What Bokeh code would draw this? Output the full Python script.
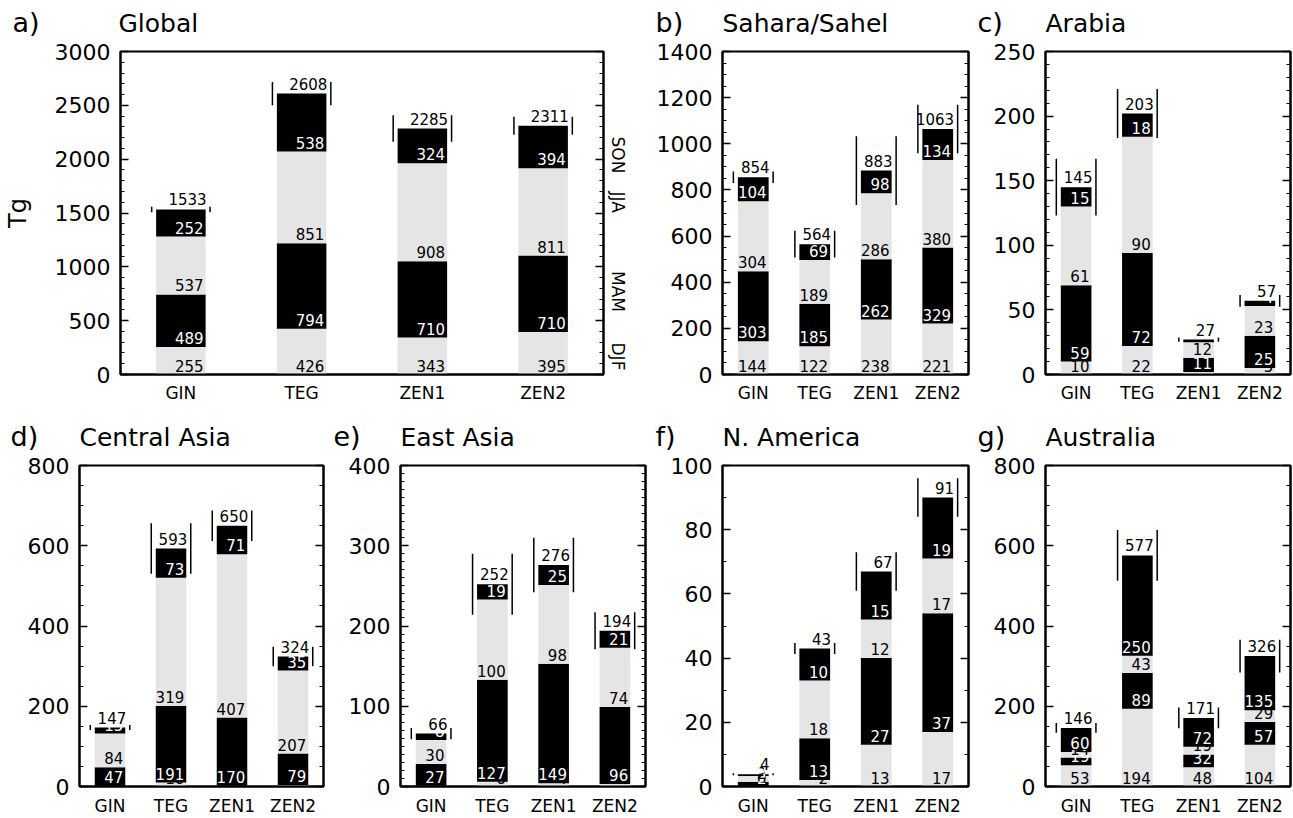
import numpy as np
from bokeh.plotting import figure
from bokeh.models import Range1d, LinearAxis, SingleIntervalTicker, FixedTicker, CustomJSTickFormatter, ColumnDataSource
from bokeh.layouts import column, row
from bokeh.embed import file_html
from bokeh.resources import INLINE
from bokeh.core.properties import value

FONT = "DejaVu Sans"
GRAY = "#e5e5e5"

categories = ["GIN", "TEG", "ZEN1", "ZEN2"]
seasons = ["DJF", "MAM", "JJA", "SON"]
season_label_pos = [297, 961, 1700, 2210]

# ---- data (Tg) ----
global_djf = [255, 426, 343, 395]
global_mam = [489, 794, 710, 710]
global_jja = [537, 851, 908, 811]
global_son = [252, 538, 324, 394]
global_total = [1533, 2608, 2285, 2311]
global_err = [25, 108, 124, 83]

sahara_djf = [144, 122, 238, 221]
sahara_mam = [303, 185, 262, 329]
sahara_jja = [304, 189, 286, 380]
sahara_son = [104, 69, 98, 134]
sahara_total = [854, 564, 883, 1063]
sahara_err = [25, 58, 149, 105]

arabia_djf = [10, 22, 2, 5]
arabia_mam = [59, 72, 11, 25]
arabia_jja = [61, 90, 12, 23]
arabia_son = [15, 18, 2, 4]
arabia_total = [145, 203, 27, 57]
arabia_err = [22, 19, 1.6, 4.5]

casia_djf = [1, 10, 2, 3]
casia_mam = [47, 191, 170, 79]
casia_jja = [84, 319, 407, 207]
casia_son = [15, 73, 71, 35]
casia_total = [147, 593, 650, 324]
casia_err = [6, 63, 38, 24]

easia_djf = [1, 6, 4, 3]
easia_mam = [27, 127, 149, 96]
easia_jja = [30, 100, 98, 74]
easia_son = [8, 19, 25, 21]
easia_total = [66, 252, 276, 194]
easia_err = [7, 38, 34, 23]

namer_djf = [0, 2, 13, 17]
namer_mam = [1.5, 13, 27, 37]
namer_jja = [1.8, 18, 12, 17]
namer_son = [0.5, 10, 15, 19]
namer_total = [4, 43, 67, 91]
namer_err = [0.3, 1.7, 6, 6]

austr_djf = [53, 194, 48, 104]
austr_mam = [19, 89, 32, 57]
austr_jja = [14, 43, 19, 29]
austr_son = [60, 250, 72, 135]
austr_total = [146, 577, 171, 326]
austr_err = [12, 63, 26, 41]

LBL_PX = 15           # bar label font size (px)
BASE_SHIFT = 0.33     # empirical baseline correction (em)
LETTER_PX = 27
NAME_PX = 25


def make_panel(segs, total, err, ymax, major, nminor,
               W, H, bl, br, bt, bb, bar_w, cat_standoff, is_global=False):
    fw = W - bl - br
    fh = H - bt - bb
    ux = 4.0 / fw
    uy = ymax / fh
    p = figure(width=W, height=H, x_range=Range1d(0, 4), y_range=Range1d(0, ymax),
               output_backend="svg", toolbar_location=None,
               min_border_left=bl, min_border_right=br,
               min_border_top=bt, min_border_bottom=bb)
    p.background_fill_color = "white"
    p.border_fill_color = "white"
    p.outline_line_color = "black"
    p.outline_line_width = 2
    p.xgrid.visible = False
    p.ygrid.visible = False

    x = np.arange(len(categories)) + 0.5
    data = {"x": x}
    for s, v in zip(seasons, segs):
        data[s] = np.array(v, dtype=float)
    src = ColumnDataSource(data)
    p.vbar_stack(seasons, x="x", width=bar_w, color=[GRAY, "black", GRAY, "black"],
                 line_width=0, source=src)

    shift = BASE_SHIFT * LBL_PX
    bottom = np.zeros(4)
    for k, s in enumerate(seasons):
        v = np.array(segs[k], dtype=float)
        col = "black" if k % 2 == 0 else "white"
        p.text(x=x + bar_w / 2 - 2 * ux, y=bottom + (4 + shift) * uy,
               text=[f"{vv:.0f}" for vv in v], text_color=col,
               text_font=value(FONT), text_font_size=f"{LBL_PX}px",
               text_align="right", text_baseline="alphabetic")
        bottom = bottom + v

    e = np.array(err, dtype=float)
    p.text(x=x + bar_w / 2 + 1 * ux, y=bottom + (5 + shift) * uy,
           text=[str(t) for t in total], text_color="black",
           text_font=value(FONT), text_font_size=f"{LBL_PX}px",
           text_align="right", text_baseline="alphabetic")
    gap = 4.5 * ux
    for sgn in (-1, 1):
        xe = x + sgn * (bar_w / 2 + gap)
        p.segment(x0=xe, y0=bottom - e, x1=xe, y1=bottom + e,
                  line_color="black", line_width=1.5)

    ya = p.yaxis[0]
    ya.ticker = SingleIntervalTicker(interval=major, num_minor_ticks=nminor + 1)
    ya.major_tick_in = 8
    ya.major_tick_out = 0
    ya.minor_tick_in = 4
    ya.minor_tick_out = 0
    ya.major_label_standoff = 10
    ya.major_label_text_font = FONT
    ya.major_label_text_font_size = "22px"
    ya.major_label_text_color = "black"
    ya.axis_line_width = 2
    ya.major_tick_line_width = 1.5
    if is_global:
        ya.axis_label = "Tg"
        ya.axis_label_text_font = FONT
        ya.axis_label_text_font_size = "24px"
        ya.axis_label_text_font_style = "normal"
        ya.axis_label_text_color = "black"
        ya.axis_label_standoff = 20

    ra = LinearAxis(ticker=SingleIntervalTicker(interval=major, num_minor_ticks=nminor + 1),
                    formatter=CustomJSTickFormatter(code="return ''"))
    ra.major_tick_in = 8
    ra.major_tick_out = 0
    ra.minor_tick_in = 4
    ra.minor_tick_out = 0
    ra.major_label_standoff = 0
    ra.major_label_text_font_size = "1px"
    ra.axis_line_width = 2
    ra.major_tick_line_width = 1.5
    p.add_layout(ra, "right")

    if is_global:
        sa = LinearAxis(ticker=FixedTicker(ticks=season_label_pos))
        sa.major_label_overrides = {pos: s for pos, s in zip(season_label_pos, seasons)}
        sa.major_label_orientation = -np.pi / 2
        sa.axis_line_color = None
        sa.major_tick_line_color = None
        sa.minor_tick_line_color = None
        sa.major_tick_in = 0
        sa.major_tick_out = 0
        sa.major_label_standoff = 14
        sa.major_label_text_font = FONT
        sa.major_label_text_font_size = "17px"
        sa.major_label_text_color = "black"
        p.add_layout(sa, "right")

    xa = p.xaxis[0]
    xa.ticker = FixedTicker(ticks=list(x))
    xa.major_label_overrides = {float(xi): c for xi, c in zip(x, categories)}
    xa.major_tick_in = 0
    xa.major_tick_out = 0
    xa.minor_tick_in = 0
    xa.minor_tick_out = 0
    xa.major_label_standoff = cat_standoff
    xa.major_label_text_font = FONT
    xa.major_label_text_font_size = "17px"
    xa.major_label_text_color = "black"
    xa.axis_line_width = 2
    return p


def title_strip(H, baseline, letters, letter_x, names, name_x):
    s = figure(width=1293, height=H, x_range=Range1d(0, 1293), y_range=Range1d(H, 0),
               output_backend="svg", toolbar_location=None,
               x_axis_type=None, y_axis_type=None,
               min_border_left=0, min_border_right=0, min_border_top=0, min_border_bottom=0)
    s.outline_line_color = None
    s.xgrid.visible = False
    s.ygrid.visible = False
    s.background_fill_color = "white"
    s.border_fill_color = "white"
    s.text(x=letter_x, y=[baseline - BASE_SHIFT * LETTER_PX] * len(letters), text=letters,
           text_color="black", text_font=value(FONT), text_font_size=f"{LETTER_PX}px",
           text_align="left", text_baseline="alphabetic")
    s.text(x=name_x, y=[baseline - BASE_SHIFT * NAME_PX] * len(names), text=names,
           text_color="black", text_font=value(FONT), text_font_size=f"{NAME_PX}px",
           text_align="left", text_baseline="alphabetic")
    return s


# top row: frames at y 51..374
TOP_STRIP = 38
pa = make_panel([global_djf, global_mam, global_jja, global_son],
                global_total, global_err, 3000, 500, 4,
                640, 372, 118, 33, 13, 36, 0.41, 8, is_global=True)
pb = make_panel([sahara_djf, sahara_mam, sahara_jja, sahara_son],
                sahara_total, sahara_err, 1400, 200, 3,
                335, 372, 82, 7, 13, 36, 0.5, 8)
pc = make_panel([arabia_djf, arabia_mam, arabia_jja, arabia_son],
                arabia_total, arabia_err, 250, 50, 4,
                318, 372, 70, 3, 13, 36, 0.5, 8)

# bottom row: frames at y 465..787
BOT_STRIP = 42
pd = make_panel([casia_djf, casia_mam, casia_jja, casia_son],
                casia_total, casia_err, 800, 200, 3,
                330, 366, 79, 7, 13, 31, 0.5, 9)
pe = make_panel([easia_djf, easia_mam, easia_jja, easia_son],
                easia_total, easia_err, 400, 100, 9,
                322, 366, 70, 7, 13, 31, 0.5, 9)
pf = make_panel([namer_djf, namer_mam, namer_jja, namer_son],
                namer_total, namer_err, 100, 20, 1,
                323, 366, 70, 7, 13, 31, 0.5, 9)
pg = make_panel([austr_djf, austr_mam, austr_jja, austr_son],
                austr_total, austr_err, 800, 200, 3,
                318, 366, 70, 3, 13, 31, 0.5, 9)

st_top = title_strip(TOP_STRIP, 31, ["a)", "b)", "c)"], [12, 655, 977],
                     ["Global", "Sahara/Sahel", "Arabia"], [118, 722, 1045])
st_bot = title_strip(BOT_STRIP, 35, ["d)", "e)", "f)", "g)"], [10, 333, 655, 977],
                     ["Central Asia", "East Asia", "N. America", "Australia"],
                     [79, 400, 722, 1045])

layout = column(st_top, row(pa, pb, pc), st_bot, row(pd, pe, pf, pg))
open("out.html", "w").write(file_html(layout, INLINE))
